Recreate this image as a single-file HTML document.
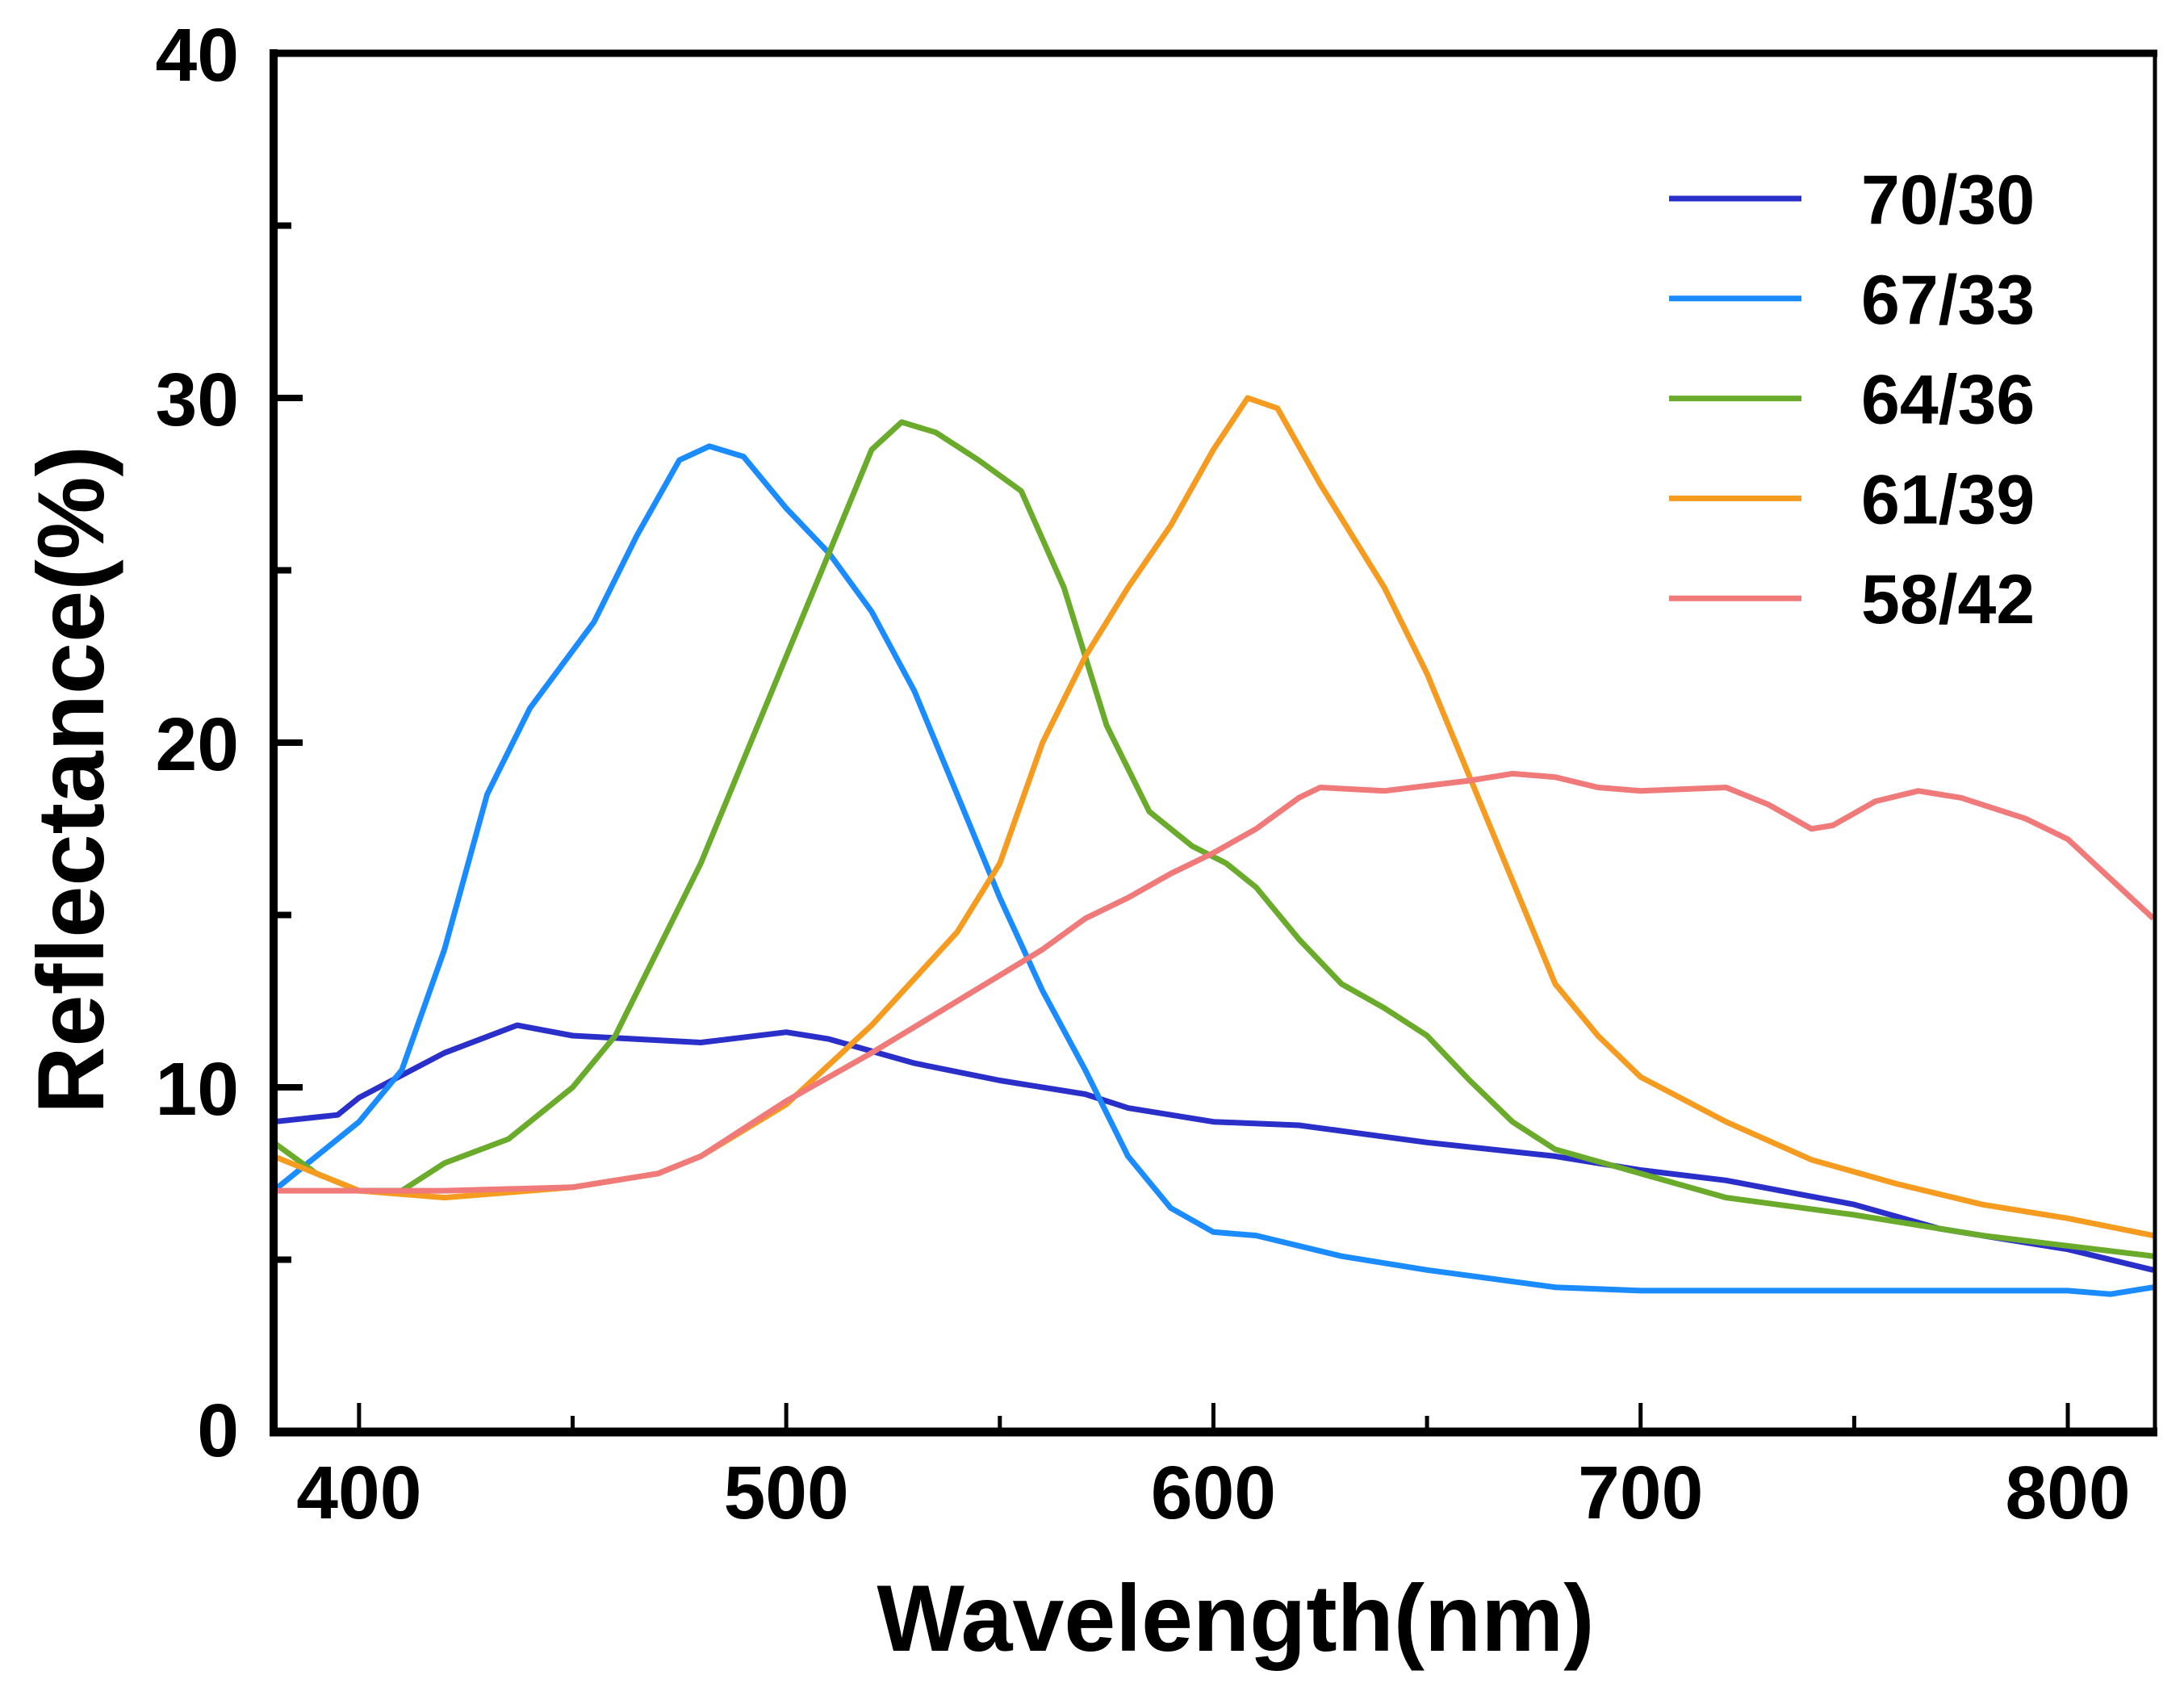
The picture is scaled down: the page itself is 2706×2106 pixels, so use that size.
<!DOCTYPE html>
<html><head><meta charset="utf-8"><style>
html,body{margin:0;padding:0;background:#fff}
svg{display:block;font-family:"Liberation Sans",Arial,sans-serif;font-weight:bold}
</style></head><body>
<svg id="chart" width="2706" height="2106" viewBox="0 0 2706 2106" xmlns="http://www.w3.org/2000/svg">
<g id="series"></g>
<g id="axes"></g>
<g id="legend"></g>
<text x="1531" y="2045" font-size="117" text-anchor="middle" textLength="889" lengthAdjust="spacingAndGlyphs">Wavelength(nm)</text>
<text transform="translate(128,966) rotate(-90)" font-size="117" text-anchor="middle" textLength="828" lengthAdjust="spacingAndGlyphs">Reflectance(%)</text>
</svg>
<script>
const xTicks=[400,500,600,700,800];
const xMinor=[450,550,650,750];
const yTicks=[0,10,20,30,40];
const yMinor=[5,15,25,35];
const seriesNames=["70/30","67/33","64/36","61/39","58/42"];
const seriesColors=["#2b2fc9","#1a8cff","#6aab2b","#f59b1f","#f07a7a"];
const s7030x=[380,395,400,420,437,450,480,500,510,530,550,570,580,600,620,650,680,700,720,750,770,800,820];
const s7030y=[9.0,9.2,9.7,11,11.8,11.5,11.3,11.6,11.4,10.7,10.2,9.8,9.4,9.0,8.9,8.4,8.0,7.6,7.3,6.6,5.9,5.3,4.7];
const s6733x=[380,400,410,420,430,440,455,465,475,482,490,500,510,520,530,540,550,560,570,580,590,600,610,630,650,680,700,750,800,810,820];
const s6733y=[7.0,9,10.5,14,18.5,21,23.5,26,28.2,28.6,28.3,26.8,25.5,23.8,21.5,18.5,15.5,12.8,10.5,8,6.5,5.8,5.7,5.1,4.7,4.2,4.1,4.1,4.1,4.0,4.2];
const s6436x=[380,390,400,410,420,435,450,460,470,480,490,500,510,520,527,535,545,555,565,575,585,595,603,610,620,630,640,650,660,670,680,700,720,750,780,820];
const s6436y=[8.4,7.5,7.0,7.0,7.8,8.5,10,11.5,14,16.5,19.5,22.5,25.5,28.5,29.3,29.0,28.2,27.3,24.5,20.5,18,17,16.5,15.8,14.3,13,12.3,11.5,10.2,9,8.2,7.5,6.8,6.3,5.7,5.1];
const s6139x=[380,400,420,450,470,480,500,520,540,550,560,570,580,590,600,608,615,625,640,650,660,670,680,690,700,720,740,760,780,800,820];
const s6139y=[8,7.0,6.8,7.1,7.5,8,9.5,11.8,14.5,16.5,20,22.5,24.5,26.3,28.5,30.0,29.7,27.5,24.5,22,19,16,13,11.5,10.3,9.0,7.9,7.2,6.6,6.2,5.7];
const s5842x=[380,400,420,450,470,480,490,500,520,540,560,570,580,590,600,610,620,625,640,660,670,680,690,700,720,730,740,745,755,765,775,790,800,820];
const s5842y=[7.0,7.0,7.0,7.1,7.5,8.0,8.8,9.6,11.0,12.5,14.0,14.9,15.5,16.2,16.8,17.5,18.4,18.7,18.6,18.9,19.1,19.0,18.7,18.6,18.7,18.2,17.5,17.6,18.3,18.6,18.4,17.8,17.2,14.9];
const allX=[s7030x,s6733x,s6436x,s6139x,s5842x];
const allY=[s7030y,s6733y,s6436y,s6139y,s5842y];

const NS="http://www.w3.org/2000/svg";
const L=339,R=2670,T=66,B=1774,X0=380,X1=820.4,Y0=0,Y1=40;
const sx=v=>L+(v-X0)/(X1-X0)*(R-L);
const sy=v=>B-(v-Y0)/(Y1-Y0)*(B-T);
function mk(tag,attrs,parent){const e=document.createElementNS(NS,tag);for(const k in attrs)e.setAttribute(k,attrs[k]);parent.appendChild(e);return e;}
const gs=document.getElementById('series'),ga=document.getElementById('axes'),gl=document.getElementById('legend');
allX.forEach((xs,i)=>{
  const d=xs.map((x,j)=>(j?'L':'M')+sx(x).toFixed(1)+','+sy(allY[i][j]).toFixed(1)).join('');
  const p=mk('path',{d:d,fill:'none',stroke:seriesColors[i],'stroke-width':7,'stroke-linejoin':'round'},gs);
  
  
});
let e;
e=mk('line',{x1:L,y1:T-5,x2:L,y2:B+5,stroke:'#000','stroke-width':10},ga);


e=mk('line',{x1:L-5,y1:B,x2:R+3,y2:B,stroke:'#000','stroke-width':11},ga);


e=mk('line',{x1:L-5,y1:T,x2:R+3,y2:T,stroke:'#000','stroke-width':9},ga);


e=mk('line',{x1:R,y1:T,x2:R,y2:B,stroke:'#000','stroke-width':5},ga);


xTicks.forEach(v=>{
  const t=mk('line',{x1:sx(v),y1:B,x2:sx(v),y2:B-36,stroke:'#000','stroke-width':5},ga);
  
  
  const tx=mk('text',{x:sx(v),y:1881,'font-size':93,'text-anchor':'middle'},ga);
  tx.textContent=v;
  
  
});
xMinor.forEach(v=>{
  const t=mk('line',{x1:sx(v),y1:B,x2:sx(v),y2:B-20,stroke:'#000','stroke-width':5},ga);
  
  
});
yTicks.forEach(v=>{
  const t=mk('line',{x1:L,y1:sy(v),x2:L+36,y2:sy(v),stroke:'#000','stroke-width':8},ga);
  
  
  const tx=mk('text',{x:296,y:sy(v)+(v==0?30:34),'font-size':93,'text-anchor':'end'},ga);
  tx.textContent=v;
  
  
});
yMinor.forEach(v=>{
  const t=mk('line',{x1:L,y1:sy(v),x2:L+22,y2:sy(v),stroke:'#000','stroke-width':8},ga);
  
  
});
seriesNames.forEach((n,i)=>{
  const y=246+i*123.8;
  const ln=mk('line',{x1:2068,y1:y,x2:2232,y2:y,stroke:seriesColors[i],'stroke-width':7},gl);
  
  
  const tx=mk('text',{x:2306,y:y+31,'font-size':86},gl);
  tx.textContent=n;
  
  
});
</script>
</body></html>
